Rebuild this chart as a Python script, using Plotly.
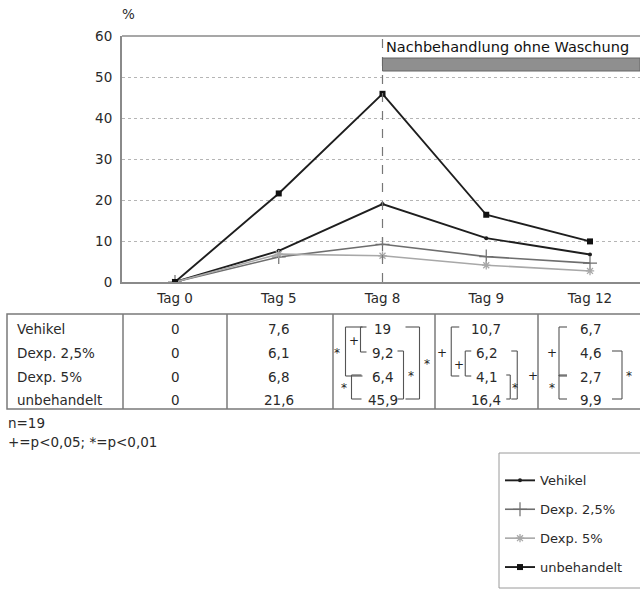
import plotly.graph_objects as go

# ---- data -------------------------------------------------------------
days = ["Tag 0", "Tag 5", "Tag 8", "Tag 9", "Tag 12"]
groups = ["Vehikel", "Dexp. 2,5%", "Dexp. 5%", "unbehandelt"]
legend_names = ["Vehikel", "Dexp. 2,5%", "Dexp. 5%", "unbehandelt"]

vehikel = [0, 7.6, 19, 10.7, 6.7]
dexp_25 = [0, 6.1, 9.2, 6.2, 4.6]
dexp_5 = [0, 6.8, 6.4, 4.1, 2.7]
unbehandelt = [0, 21.6, 45.9, 16.4, 9.9]

table_text = [
    ["0", "7,6", "19", "10,7", "6,7"],
    ["0", "6,1", "9,2", "6,2", "4,6"],
    ["0", "6,8", "6,4", "4,1", "2,7"],
    ["0", "21,6", "45,9", "16,4", "9,9"],
]

y_ticks = [0, 10, 20, 30, 40, 50, 60]
phase_label = "Nachbehandlung ohne Waschung"
n_label = "n=19"
sig_label = "+=p&lt;0,05; *=p&lt;0,01"

# significance brackets: (day index, first row, last row, side, symbol)
brackets = [
    (2, 0, 2, "L", "*"), (2, 0, 1, "L", "+"), (2, 2, 3, "L", "*"),
    (2, 0, 3, "R", "*"), (2, 1, 3, "R", "*"),
    (3, 0, 2, "L", "+"), (3, 1, 2, "L", "+"),
    (3, 1, 3, "R", "+"), (3, 2, 3, "R", "*"),
    (4, 0, 2, "L", "+"), (4, 2, 3, "L", "*"), (4, 1, 3, "R", "*"),
]
# horizontal layout of each bracket: vertical-line offset from column centre,
# stub length toward the numbers, symbol offset from the vertical line
bracket_geom = [
    (-37, 17, -9), (-22, 6, -7), (-31, 10, -8),
    (37, 14, 7), (21, 6, 7),
    (-35, 8, -9), (-21, 6, -6),
    (31, 6, 16), (24, 4, 5),
    (-31, 8, -7), (-31, 8, -7), (32, 10, 7),
]

W, H = 640, 594
def px(x):
    return x / W
def py(y):
    return 1 - y / H

X_LEFT, X_RIGHT = 122, 640
Y_TOP, Y_BOT = 36, 282
SPACING = (590 - 175) / 4
x_range = [-(175 - X_LEFT) / SPACING, (X_RIGHT - 175) / SPACING]

FONT = "DejaVu Sans, Verdana, sans-serif"
TXT = "#2a2a2a"
AX = "#8a8a8a"
FS = 13.5

fig = go.Figure()
x_idx = list(range(len(days)))

series = [
    (vehikel, dict(color="#1e1e1e", width=1.9),
     dict(symbol="circle", size=4, color="#1e1e1e")),
    (dexp_25, dict(color="#6e6e6e", width=1.6),
     dict(symbol="cross-thin-open", size=10, line=dict(color="#9a9a9a", width=1.2))),
    (dexp_5, dict(color="#a8a8a8", width=1.6),
     dict(symbol="asterisk-open", size=7, line=dict(color="#707070", width=1.3))),
    (unbehandelt, dict(color="#1e1e1e", width=1.9),
     dict(symbol="square", size=6, color="#111111")),
]
for i, (vals, ln, mk) in enumerate(series):
    fig.add_trace(go.Scatter(
        x=x_idx, y=vals, mode="lines+markers", name=legend_names[i],
        line=ln, marker=mk, legendgroup=f"g{i}",
    ))

shapes = []
# top frame line
shapes.append(dict(type="line", xref="paper", yref="paper",
                   x0=px(X_LEFT), x1=px(X_RIGHT), y0=py(Y_TOP), y1=py(Y_TOP),
                   line=dict(color=AX, width=1.6)))
# dashed marker at start of after-treatment
shapes.append(dict(type="line", xref="x", yref="paper", x0=2, x1=2,
                   y0=py(Y_BOT), y1=py(Y_TOP),
                   line=dict(color="#777", width=1.2, dash="dash")))
# shaded after-treatment bar
shapes.append(dict(type="rect", xref="x", yref="paper", x0=2, x1=x_range[1],
                   y0=py(71), y1=py(58), fillcolor="#8f8f8f",
                   line=dict(color="#666", width=1)))

# table grid
T_TOP, T_BOT, T_LEFT = 314, 409, 7
shapes.append(dict(type="rect", xref="paper", yref="paper",
                   x0=px(T_LEFT), x1=px(641), y0=py(T_BOT), y1=py(T_TOP),
                   line=dict(color="#7a7a7a", width=1.5)))
for xd in [123, 227, 333, 435, 538]:
    shapes.append(dict(type="line", xref="paper", yref="paper",
                       x0=px(xd), x1=px(xd), y0=py(T_BOT), y1=py(T_TOP),
                       line=dict(color="#7a7a7a", width=1.5)))

# legend frame (runs off the right edge of the page)
shapes.append(dict(type="rect", xref="paper", yref="paper",
                   x0=px(499), x1=px(642), y0=py(588), y1=py(453),
                   line=dict(color="#9a9a9a", width=1)))

row_y = [329, 353, 377, 400]
col_x = [175 + SPACING * i for i in range(len(days))]


def label(text, x, y, size=FS, xanchor="center", xref="paper", color=TXT):
    return dict(text=text, x=x, y=y, xref=xref, yref="paper",
                xanchor=xanchor, yanchor="middle", showarrow=False,
                font=dict(family=FONT, size=size, color=color))


annotations = [
    label("%", px(128), py(14)),
    label(phase_label, px(384), py(47), size=14.5, xanchor="left", color="#111"),
]

for r, name in enumerate(groups):
    annotations.append(label(name, px(15), py(row_y[r]), xanchor="left"))
    for c in range(len(days)):
        annotations.append(label(table_text[r][c], c, py(row_y[r]), xref="x"))

annotations.append(label(n_label, px(6), py(423), xanchor="left"))
annotations.append(label(sig_label, px(6), py(442), xanchor="left"))

for (c, r0, r1, side, sym), (off, stub, soff) in zip(brackets, bracket_geom):
    xv = col_x[c] + off
    y0, y1 = row_y[r0] - 2, row_y[r1] - 1
    d = stub if side == "L" else -stub
    line = dict(color="#555", width=1.1)
    shapes.append(dict(type="line", xref="paper", yref="paper",
                       x0=px(xv), x1=px(xv), y0=py(y0), y1=py(y1), line=line))
    for yy in (y0, y1):
        shapes.append(dict(type="line", xref="paper", yref="paper",
                           x0=px(xv), x1=px(xv + d), y0=py(yy), y1=py(yy), line=line))
    annotations.append(label(sym, px(xv + soff), py((y0 + y1) / 2 + 1),
                             size=12, color="#222"))

fig.update_layout(
    width=W, height=H,
    margin=dict(l=0, r=0, t=0, b=0, autoexpand=False),
    paper_bgcolor="white", plot_bgcolor="white",
    font=dict(family=FONT, color=TXT),
    xaxis=dict(domain=[px(X_LEFT), px(X_RIGHT)], range=x_range,
               tickmode="array", tickvals=x_idx, ticktext=days,
               tickfont=dict(family=FONT, size=FS, color=TXT),
               showgrid=False, zeroline=False, showline=True,
               linecolor=AX, linewidth=2, ticks="", ticklabelstandoff=3),
    yaxis=dict(domain=[py(Y_BOT), py(Y_TOP)], range=[0, 60],
               tickmode="array", tickvals=y_ticks,
               tickfont=dict(family=FONT, size=FS, color=TXT),
               showgrid=True, gridcolor="#b5b5b5", griddash="dot", gridwidth=1,
               zeroline=False, showline=True, linecolor=AX, linewidth=2,
               ticks="", ticklabelstandoff=5),
    shapes=shapes,
    annotations=annotations,
    showlegend=True,
    legend=dict(x=px(500), y=py(455), xanchor="left", yanchor="top",
                borderwidth=0, bgcolor="rgba(0,0,0,0)",
                font=dict(family=FONT, size=13, color=TXT),
                traceorder="grouped", tracegroupgap=9, itemwidth=30,
                title=dict(text=" ", font=dict(size=8))),
)

fig.write_html("out.html")
